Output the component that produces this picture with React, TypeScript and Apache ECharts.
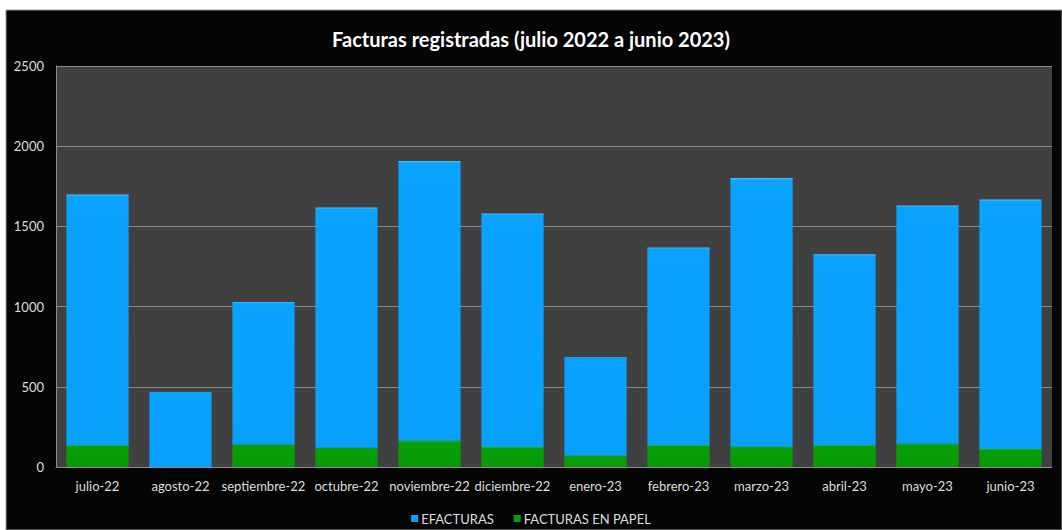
import React, { useEffect, useRef } from "react";
import * as echarts from "echarts";

const categories = [
  "julio-22", "agosto-22", "septiembre-22", "octubre-22", "noviembre-22", "diciembre-22",
  "enero-23", "febrero-23", "marzo-23", "abril-23", "mayo-23", "junio-23",
];
const efacturas = [1564, 468, 887, 1498, 1744, 1456, 613, 1234, 1675, 1191, 1486, 1556];
const papel = [135, 0, 141, 120, 164, 125, 72, 135, 126, 135, 145, 112];
const yTicks = { min: 0, max: 2500, interval: 500 };

const FONT = "Lato, 'Open Sans', sans-serif";

export default function App() {
  const ref = useRef<HTMLDivElement>(null);
  useEffect(() => {
    document.body.style.margin = "0";
    const chart = echarts.init(ref.current!, null, { renderer: "svg" });
    chart.setOption({
      animation: false,
      backgroundColor: "#ffffff",
      graphic: [
        {
          type: "rect",
          z: -10,
          shape: { x: 6, y: 10, width: 1056, height: 520 },
          style: { fill: "#050505", stroke: "#9a9a9a", lineWidth: 1 },
          silent: true,
        },
      ],
      title: {
        text: "Facturas registradas (julio 2022 a junio 2023)",
        left: "center",
        top: 24,
        textStyle: { color: "#ffffff", fontSize: 20, fontWeight: "bold", fontFamily: FONT },
      },
      legend: {
        data: ["EFACTURAS", "FACTURAS EN PAPEL"],
        left: "center",
        top: 507,
        itemWidth: 7,
        itemHeight: 7,
        itemGap: 20,
        icon: "rect",
        textStyle: { color: "#dddddd", fontSize: 13, fontFamily: FONT, padding: [0, 0, 0, -2] },
      },
      grid: {
        left: 56,
        top: 66,
        right: 10,
        bottom: 63,
        show: true,
        backgroundColor: "#404040",
        borderWidth: 0,
      },
      xAxis: {
        type: "category",
        data: categories,
        axisLine: { show: true, lineStyle: { color: "#8c8c8c", width: 1 } },
        axisTick: { show: false },
        axisLabel: { color: "#dddddd", fontSize: 13, fontFamily: FONT, margin: 12, interval: 0 },
      },
      yAxis: {
        type: "value",
        min: yTicks.min,
        max: yTicks.max,
        interval: yTicks.interval,
        axisLine: { show: true, lineStyle: { color: "#8c8c8c", width: 1 } },
        axisTick: { show: false },
        splitLine: { show: true, lineStyle: { color: "#8a8a8a", width: 1 } },
        axisLabel: {
          color: "#dddddd",
          fontSize: 13,
          fontFamily: FONT,
          margin: 12,
          formatter: (v: number) => String(v),
        },
      },
      series: [
        {
          name: "FACTURAS EN PAPEL",
          type: "bar",
          stack: "total",
          data: papel,
          barCategoryGap: "25%",
          itemStyle: {
            color: new echarts.graphic.LinearGradient(0, 0, 0, 1, [
              { offset: 0, color: "#2fd02f" },
              { offset: 0.04, color: "#0a9e0a" },
              { offset: 1, color: "#079a07" },
            ]),
          },
        },
        {
          name: "EFACTURAS",
          type: "bar",
          stack: "total",
          data: efacturas,
          barCategoryGap: "25%",
          itemStyle: {
            color: new echarts.graphic.LinearGradient(0, 0, 0, 1, [
              { offset: 0, color: "#4cc0ff" },
              { offset: 0.008, color: "#0aa2ff" },
              { offset: 1, color: "#07a0fb" },
            ]),
          },
        },
      ],
    });
    return () => chart.dispose();
  }, []);
  return <div ref={ref} style={{ width: 1062, height: 530 }} />;
}
